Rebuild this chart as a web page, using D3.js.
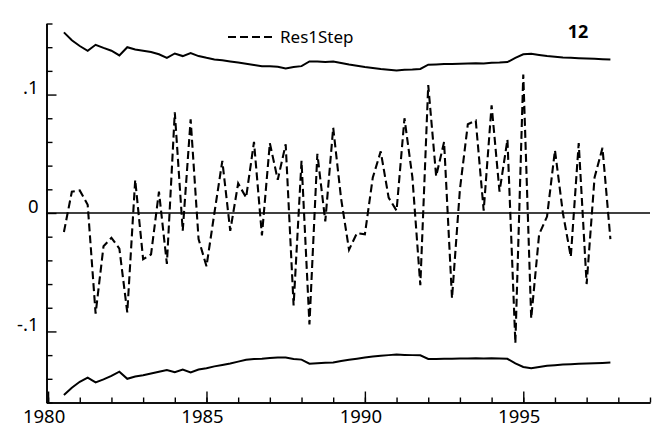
<!DOCTYPE html>
<html>
<head>
<meta charset="utf-8">
<script src="https://cdn.jsdelivr.net/npm/d3@7"></script>
<style>
  body { margin: 0; background: #fff; }
  text { font-family: "Noto Sans", "Open Sans", sans-serif; fill: #000; }
</style>
</head>
<body>
<script>
// quarterly observations, 1980Q3 .. 1997Q4
var startYear = 1980.5;
var res1Step = [
  -0.016, 0.018,
  0.019, 0.007, -0.085, -0.028,
  -0.021, -0.030, -0.084, 0.028,
  -0.039, -0.035, 0.018, -0.043,
  0.085, -0.015, 0.079, -0.022,
  -0.045, 0.000, 0.044, -0.015,
  0.025, 0.013, 0.060, -0.019,
  0.059, 0.028, 0.058, -0.078,
  0.044, -0.094, 0.050, -0.007,
  0.072, 0.012, -0.031, -0.017,
  -0.018, 0.030, 0.052, 0.013,
  0.002, 0.080, 0.030, -0.061,
  0.108, 0.031, 0.060, -0.072,
  0.020, 0.075, 0.078, 0.002,
  0.091, 0.018, 0.062, -0.110,
  0.117, -0.089, -0.018, -0.003,
  0.053, 0.000, -0.037, 0.059,
  -0.060, 0.030, 0.055, -0.022
];
var upperBand = [
  0.1525, 0.1458,
  0.1410, 0.1370, 0.1420, 0.1394,
  0.1370, 0.1330, 0.1400, 0.1380,
  0.1370, 0.1360, 0.1340, 0.1310,
  0.1347, 0.1325, 0.1350, 0.1325,
  0.1310, 0.1297, 0.1290, 0.1280,
  0.1270, 0.1260, 0.1250, 0.1240,
  0.1240, 0.1235, 0.1220, 0.1233,
  0.1240, 0.1280, 0.1280, 0.1275,
  0.1280, 0.1267, 0.1254, 0.1243,
  0.1233, 0.1225, 0.1216, 0.1210,
  0.1203, 0.1210, 0.1212, 0.1216,
  0.1252, 0.1254, 0.1257, 0.1258,
  0.1260, 0.1263, 0.1265, 0.1263,
  0.1269, 0.1270, 0.1274, 0.1310,
  0.1340, 0.1345, 0.1335, 0.1325,
  0.1320, 0.1312, 0.1310, 0.1307,
  0.1305, 0.1302, 0.1299, 0.1297
];
var lowerBand = [
  -0.1537, -0.1475,
  -0.1425, -0.1390, -0.1430, -0.1405,
  -0.1375, -0.1340, -0.1400, -0.1380,
  -0.1370, -0.1355, -0.1340, -0.1325,
  -0.1345, -0.1322, -0.1347, -0.1322,
  -0.1310, -0.1295, -0.1283, -0.1270,
  -0.1255, -0.1240, -0.1233, -0.1230,
  -0.1225, -0.1220, -0.1220, -0.1232,
  -0.1238, -0.1272, -0.1268, -0.1265,
  -0.1263, -0.1250, -0.1240, -0.1230,
  -0.1220, -0.1212, -0.1205, -0.1200,
  -0.1195, -0.1198, -0.1200, -0.1202,
  -0.1232, -0.1232, -0.1231, -0.1230,
  -0.1229, -0.1228, -0.1226, -0.1228,
  -0.1226, -0.1228, -0.1231, -0.1270,
  -0.1300, -0.1310, -0.1300, -0.1290,
  -0.1285, -0.1280, -0.1277, -0.1273,
  -0.1270, -0.1268, -0.1266, -0.1263
];
var xMajorTicks = [1980, 1985, 1990, 1995];
var xMinorTicks = d3.range(1980, 2000, 1);
var yMajorTicks = [-0.1, 0, 0.1];
var yMinorTicks = [-0.16, -0.14, -0.12, -0.08, -0.06, -0.04, -0.02, 0.02, 0.04, 0.06, 0.08, 0.12, 0.14, 0.16];
var yLabels = { "-0.1": "-.1", "0": "0", "0.1": ".1" };

var W = 658, H = 433;

var svg = d3.select("body").append("svg")
  .attr("width", W)
  .attr("height", H);

var x = d3.scaleLinear().domain([1979.95, 1999]).range([46.5, 650]);
var y = d3.scaleLinear().domain([-0.16, 0.16]).range([402.5, 23.5]);

var t = function (i) { return startYear + i * 0.25; };

// axes, ticks pointing inwards
var xMinor = d3.axisBottom(x).tickValues(xMinorTicks).tickSize(-5).tickSizeOuter(0).tickFormat("");
var xMajor = d3.axisBottom(x).tickValues(xMajorTicks).tickSize(-11).tickSizeOuter(0)
  .tickPadding(10).tickFormat(d3.format("d"));
var yMinor = d3.axisLeft(y).tickValues(yMinorTicks).tickSize(-6).tickSizeOuter(0).tickFormat("");
var yMajor = d3.axisLeft(y).tickValues(yMajorTicks).tickSize(-10).tickSizeOuter(0)
  .tickPadding(8).tickFormat(function (d) { return yLabels[String(+d.toFixed(2))]; });

svg.append("g").attr("transform", "translate(0," + y(-0.16) + ")").call(xMinor);
var gx = svg.append("g").attr("transform", "translate(0," + y(-0.16) + ")").call(xMajor);
gx.selectAll("text").attr("font-size", "18.5px").attr("dx", "-4.5").attr("dy", "0.55em");

svg.append("g").attr("transform", "translate(" + x(1979.95) + ",0)").call(yMinor);
var gy = svg.append("g").attr("transform", "translate(" + x(1979.95) + ",0)").call(yMajor);
gy.selectAll("text").attr("font-size", "18.5px").attr("dy", "-0.05em");

svg.selectAll(".domain").attr("stroke", "#000").attr("stroke-width", 1.6);
svg.selectAll(".tick line").attr("stroke", "#000").attr("stroke-width", 1.4);
svg.selectAll(".tick text").style("font-family", "'Noto Sans', sans-serif").attr("fill", "#000");

// zero line
svg.append("line")
  .attr("x1", x(1979.95)).attr("x2", x(1999))
  .attr("y1", y(0)).attr("y2", y(0))
  .attr("stroke", "#000").attr("stroke-width", 1.7);

var line = d3.line()
  .x(function (d, i) { return x(t(i)); })
  .y(function (d) { return y(d); });

svg.append("path").datum(upperBand)
  .attr("d", line).attr("fill", "none")
  .attr("stroke", "#000").attr("stroke-width", 2);
svg.append("path").datum(lowerBand)
  .attr("d", line).attr("fill", "none")
  .attr("stroke", "#000").attr("stroke-width", 2);

svg.append("path").datum(res1Step)
  .attr("d", line).attr("fill", "none")
  .attr("stroke", "#000").attr("stroke-width", 2.1)
  .attr("stroke-dasharray", "8,4");

// legend
svg.append("line")
  .attr("x1", 228).attr("x2", 272).attr("y1", 37).attr("y2", 37)
  .attr("stroke", "#000").attr("stroke-width", 2)
  .attr("stroke-dasharray", "8,4");
svg.append("text").attr("x", 280).attr("y", 43)
  .attr("font-size", "17px").text("Res1Step");

// panel number
svg.append("text").attr("x", 578).attr("y", 38)
  .attr("text-anchor", "middle").attr("font-size", "18px")
  .attr("font-weight", "bold").text("12");
</script>
</body>
</html>
